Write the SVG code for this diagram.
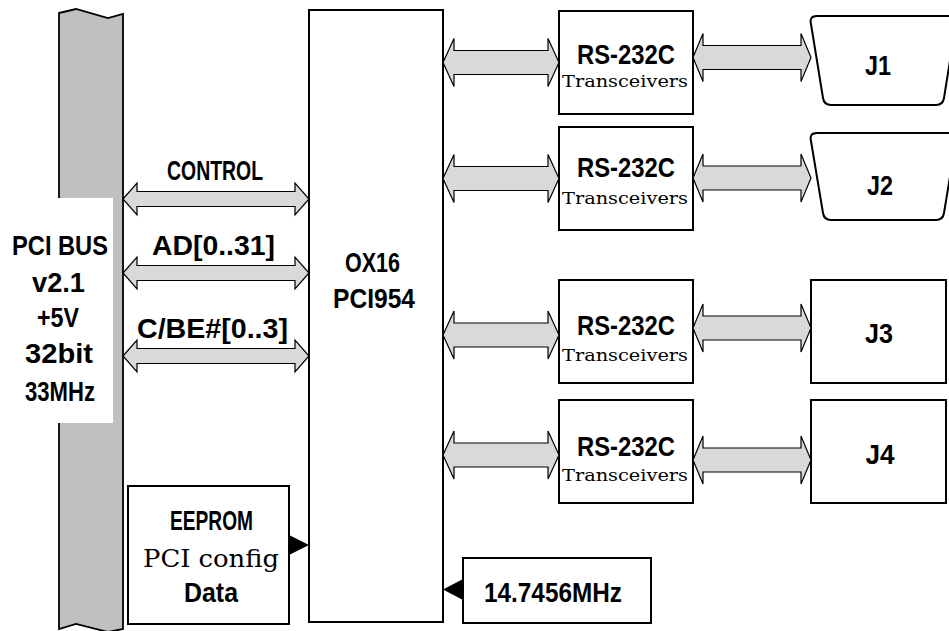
<svg xmlns="http://www.w3.org/2000/svg" width="949" height="631" viewBox="0 0 949 631">
<style>
.b{font-family:"Liberation Sans","Arial",sans-serif;font-weight:bold;font-size:28px;text-anchor:middle;fill:#000}
.s{font-family:"DejaVu Serif","Liberation Serif",serif;text-anchor:middle;fill:#000}
.box{fill:#fff;stroke:#000;stroke-width:2}
.arr{fill:#d9d9d9;stroke:#000;stroke-width:1.2;stroke-linejoin:miter}
.tri{fill:#000;stroke:none}
</style>
<rect width="949" height="631" fill="#fff"/>
<g id="pci-bus">
<polygon points="59,13 76,9 108,18 123,14 123,629 108,632 76,624 59,629" fill="#c0c0c0" stroke="#000" stroke-width="1.8"/>
<rect x="0" y="198" width="113" height="225" fill="#fff"/>
<text class="b" x="60" y="255" textLength="96" lengthAdjust="spacingAndGlyphs">PCI BUS</text>
<text class="b" x="58.5" y="292" textLength="53" lengthAdjust="spacingAndGlyphs">v2.1</text>
<text class="b" x="58" y="327" textLength="42" lengthAdjust="spacingAndGlyphs">+5V</text>
<text class="b" x="59" y="363" textLength="68" lengthAdjust="spacingAndGlyphs">32bit</text>
<text class="b" x="60" y="401" textLength="70" lengthAdjust="spacingAndGlyphs">33MHz</text>
</g>
<g id="chip">
<rect class="box" x="309" y="10" width="134" height="612"/>
<text class="b" x="372.5" y="272" font-size="27" textLength="55" lengthAdjust="spacingAndGlyphs">OX16</text>
<text class="b" x="374" y="308" font-size="27" textLength="82" lengthAdjust="spacingAndGlyphs">PCI954</text>
</g>
<g id="eeprom">
<rect class="box" x="128" y="486" width="161" height="138"/>
<text class="b" x="211.5" y="530" textLength="83" lengthAdjust="spacingAndGlyphs">EEPROM</text>
<text class="s" x="211" y="567" font-size="25" textLength="136" lengthAdjust="spacingAndGlyphs">PCI config</text>
<text class="b" x="211" y="602" textLength="54" lengthAdjust="spacingAndGlyphs">Data</text>
</g>
<g id="clock">
<rect class="box" x="463" y="558" width="188" height="65"/>
<text class="b" x="553" y="602" textLength="138" lengthAdjust="spacingAndGlyphs">14.7456MHz</text>
</g>
<g id="xcvr1">
<rect class="box" x="559" y="11" width="134" height="103"/>
<text class="b" x="626" y="64" textLength="98" lengthAdjust="spacingAndGlyphs">RS-232C</text>
<text class="s" x="625" y="87" font-size="17" textLength="126" lengthAdjust="spacingAndGlyphs">Transceivers</text>
</g>
<g id="xcvr2">
<rect class="box" x="559" y="127" width="134" height="103"/>
<text class="b" x="626" y="177" textLength="98" lengthAdjust="spacingAndGlyphs">RS-232C</text>
<text class="s" x="625" y="204" font-size="17" textLength="126" lengthAdjust="spacingAndGlyphs">Transceivers</text>
</g>
<g id="xcvr3">
<rect class="box" x="559" y="280" width="134" height="103"/>
<text class="b" x="626" y="335" textLength="98" lengthAdjust="spacingAndGlyphs">RS-232C</text>
<text class="s" x="625" y="361" font-size="17" textLength="126" lengthAdjust="spacingAndGlyphs">Transceivers</text>
</g>
<g id="xcvr4">
<rect class="box" x="559" y="400" width="134" height="103"/>
<text class="b" x="626" y="456" textLength="98" lengthAdjust="spacingAndGlyphs">RS-232C</text>
<text class="s" x="625" y="481" font-size="17" textLength="126" lengthAdjust="spacingAndGlyphs">Transceivers</text>
</g>
<g id="j1">
<path class="box" d="M817,16 L950,16 Q957,16 956,23 L944,98 Q943,105 936,105 L831,105 Q824,105 823,98 L811,24 Q809,16 817,16 Z"/>
<text class="b" x="878" y="75" font-size="25" textLength="26" lengthAdjust="spacingAndGlyphs">J1</text>
</g>
<g id="j2">
<path class="box" d="M817,133 L950,133 Q957,133 956,140 L944,213 Q943,220 936,220 L831,220 Q824,220 823,213 L811,141 Q809,133 817,133 Z"/>
<text class="b" x="880" y="195" font-size="25" textLength="26" lengthAdjust="spacingAndGlyphs">J2</text>
</g>
<g id="j3">
<rect class="box" x="811" y="280" width="135" height="103"/>
<text class="b" x="879" y="343" font-size="25" textLength="28" lengthAdjust="spacingAndGlyphs">J3</text>
</g>
<g id="j4">
<rect class="box" x="811" y="400" width="135" height="103"/>
<text class="b" x="880" y="464" font-size="25" textLength="29" lengthAdjust="spacingAndGlyphs">J4</text>
</g>
<g id="connectors">
<path class="arr" d="M123,199 L137,183 L137,191.5 L295,191.5 L295,183 L309,199 L295,215 L295,206.5 L137,206.5 L137,215 Z"/>
<path class="arr" d="M123,273 L137,257 L137,265.5 L295,265.5 L295,257 L309,273 L295,289 L295,280.5 L137,280.5 L137,289 Z"/>
<path class="arr" d="M123,356 L137,340 L137,348.5 L295,348.5 L295,340 L309,356 L295,372 L295,363.5 L137,363.5 L137,372 Z"/>
<path class="arr" d="M443,62.5 L454,38.5 L454,50.5 L548,50.5 L548,38.5 L559,62.5 L548,86.5 L548,74.5 L454,74.5 L454,86.5 Z"/>
<path class="arr" d="M443,178.5 L454,154.5 L454,166.5 L548,166.5 L548,154.5 L559,178.5 L548,202.5 L548,190.5 L454,190.5 L454,202.5 Z"/>
<path class="arr" d="M443,335 L454,311 L454,323 L548,323 L548,311 L559,335 L548,359 L548,347 L454,347 L454,359 Z"/>
<path class="arr" d="M443,455 L454,431 L454,443 L548,443 L548,431 L559,455 L548,479 L548,467 L454,467 L454,479 Z"/>
<path class="arr" d="M693,57.5 L703,33.5 L703,45.5 L801,45.5 L801,33.5 L811,57.5 L801,81.5 L801,69.5 L703,69.5 L703,81.5 Z"/>
<path class="arr" d="M693,178 L703,154 L703,166 L801,166 L801,154 L811,178 L801,202 L801,190 L703,190 L703,202 Z"/>
<path class="arr" d="M693,328 L703,304 L703,316 L801,316 L801,304 L811,328 L801,352 L801,340 L703,340 L703,352 Z"/>
<path class="arr" d="M693,460 L703,436 L703,448 L801,448 L801,436 L811,460 L801,484 L801,472 L703,472 L703,484 Z"/>
<polygon class="tri" points="289,535 289,555 309,545"/>
<polygon class="tri" points="463,579 463,600 443,589.5"/>
<text class="b" x="215" y="180" textLength="96" lengthAdjust="spacingAndGlyphs">CONTROL</text>
<text class="b" x="213.5" y="255" textLength="123" lengthAdjust="spacingAndGlyphs">AD[0..31]</text>
<text class="b" x="212.5" y="338" textLength="151" lengthAdjust="spacingAndGlyphs">C/BE#[0..3]</text>
</g>
</svg>
